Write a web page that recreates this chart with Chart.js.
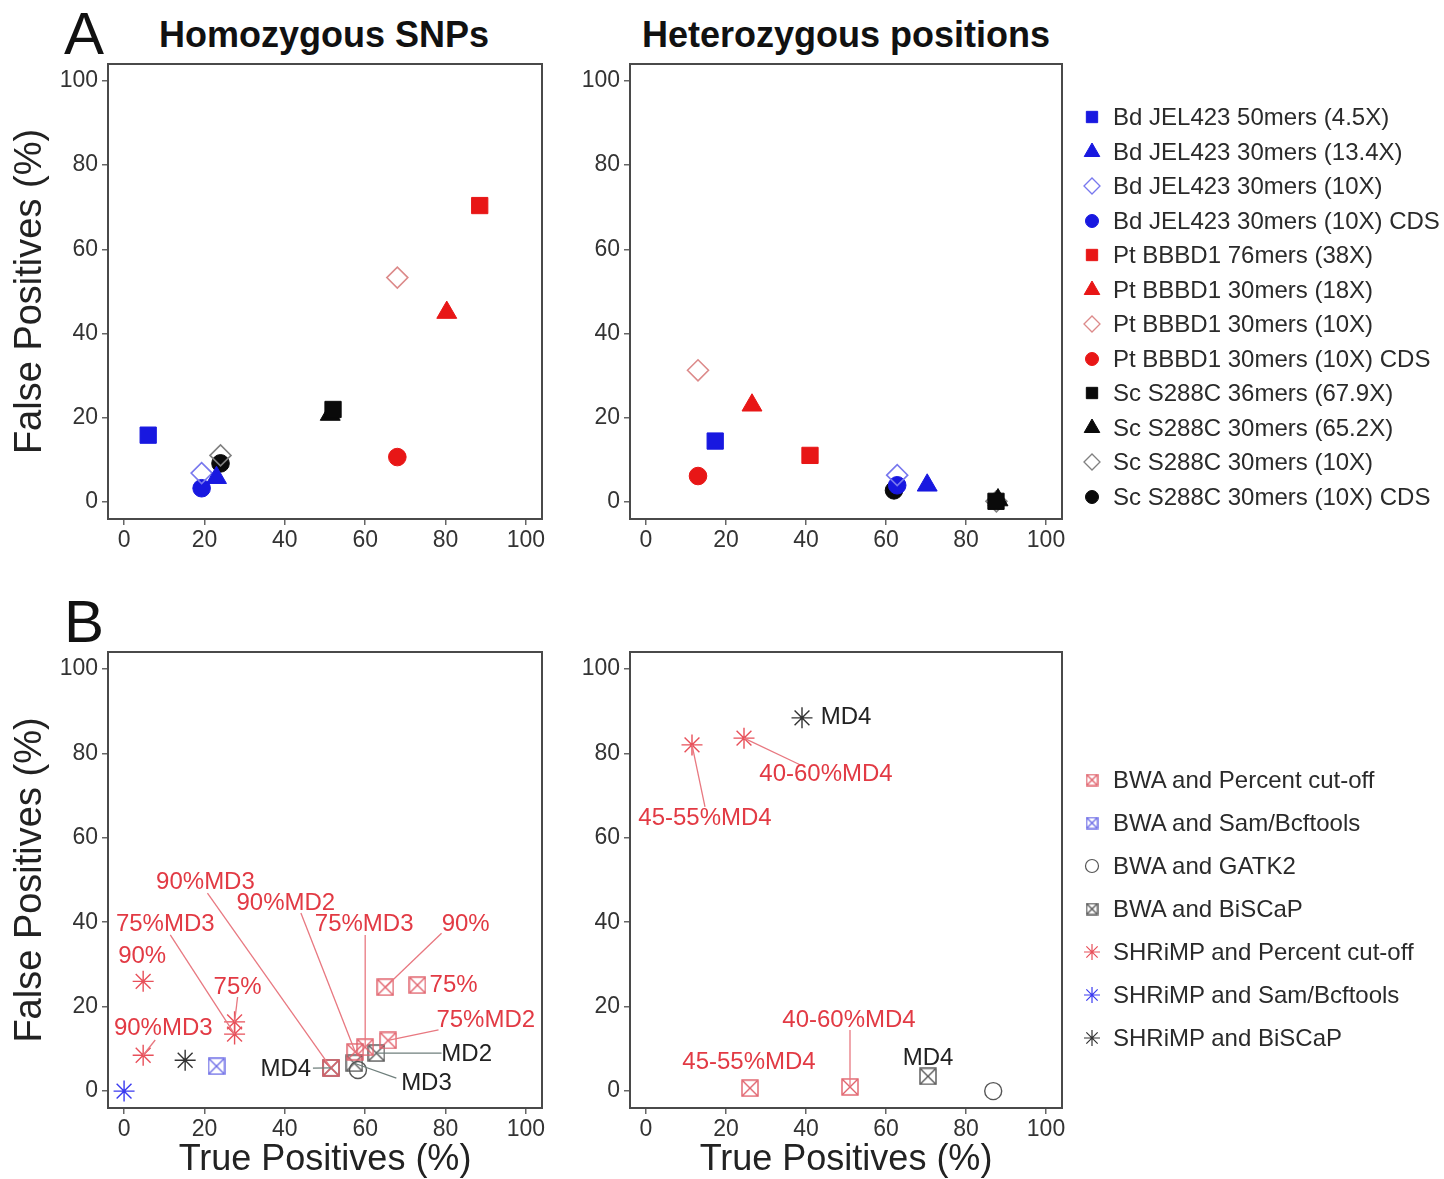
<!DOCTYPE html>
<html>
<head>
<meta charset="utf-8">
<script src="https://cdn.jsdelivr.net/npm/chart.js@4.4.1/dist/chart.umd.min.js"></script>
<style>
  body { margin: 0; background: #fff; width: 1444px; height: 1179px; position: relative; overflow: hidden;
         font-family: "Liberation Sans", Arial, sans-serif; }
  canvas { position: absolute; }
  .t { position: absolute; white-space: nowrap; line-height: 1; color: #111; }
  .letter { font-size: 60px; }
  .ptitle { font-size: 36px; font-weight: bold; transform: translateX(-50%); }
  .leg { font-size: 24px; color: #2a2a2a; }
</style>
</head>
<body>
<div class="t letter" style="left:64px;top:4px">A</div>
<div class="t letter" style="left:64px;top:592px">B</div>
<div class="t ptitle" style="left:324px;top:17px">Homozygous SNPs</div>
<div class="t ptitle" style="left:846px;top:17px">Heterozygous positions</div>

<canvas id="homA" width="560" height="569" style="left:0;top:0"></canvas>
<canvas id="hetA" width="520" height="569" style="left:560px;top:0"></canvas>
<canvas id="homB" width="560" height="579" style="left:0;top:600px"></canvas>
<canvas id="hetB" width="520" height="579" style="left:560px;top:600px"></canvas>
<div id="legends"></div>

<script>
const FONT = '"Liberation Sans", Arial, sans-serif';

const xTicks = [0, 20, 40, 60, 80, 100];
const yTicks = [0, 20, 40, 60, 80, 100];

// panel A: strains / read sets
const strainNames = [
  'Bd JEL423 50mers (4.5X)', 'Bd JEL423 30mers (13.4X)', 'Bd JEL423 30mers (10X)', 'Bd JEL423 30mers (10X) CDS',
  'Pt BBBD1 76mers (38X)', 'Pt BBBD1 30mers (18X)', 'Pt BBBD1 30mers (10X)', 'Pt BBBD1 30mers (10X) CDS',
  'Sc S288C 36mers (67.9X)', 'Sc S288C 30mers (65.2X)', 'Sc S288C 30mers (10X)', 'Sc S288C 30mers (10X) CDS'
];
const homA_x = [6, 23, 19.3, 19.3, 88.5, 80.3, 68, 68, 52, 51.3, 24, 24];
const homA_y = [15.9, 5.8, 6.9, 3.3, 70.4, 45, 53.3, 10.7, 22, 20.8, 11.1, 9.2];
const hetA_x = [17.3, 70.3, 62.8, 62.8, 41, 26.5, 13, 13, 87.5, 88, 87.6, 62];
const hetA_y = [14.5, 4.0, 6.4, 4.0, 11.1, 23, 31.3, 6.2, 0.2, 0.5, 0.2, 2.8];

// panel B: aligner + caller combinations
const methodNames = [
  'BWA and Percent cut-off', 'BWA and Sam/Bcftools', 'BWA and GATK2', 'BWA and BiSCaP',
  'SHRiMP and Percent cut-off', 'SHRiMP and Sam/Bcftools', 'SHRiMP and BiSCaP'
];
const homB_x = [[65, 73, 65.7, 60, 57.5, 51.5], [23], [58.2], [51.5, 57.3, 62.8], [4.75, 4.75, 27.5, 27.5], [0], [15.2]];
const homB_y = [[24.6, 25.1, 12, 10.4, 9.3, 5.5], [5.9], [5], [5.5, 6.6, 9], [26, 8.5, 16.4, 13.5], [0], [7.3]];
const hetB_x = [[26, 51], [], [86.8], [70.5], [11.5, 24.5], [], [39]];
const hetB_y = [[0.7, 1], [], [0], [3.5], [82, 83.6], [], [88.4]];

// point labels: [text, labelX, labelY, lineStartX, lineStartY, pointX, pointY, colour]
const homB_notes = [
  ['90%MD3', 20.25, 49.5, 20.75, 46.9, 51.5, 5.5, 'r'],
  ['90%MD2', 40.25, 44.5, 44, 42.2, 57.5, 9.3, 'r'],
  ['75%MD3', 59.75, 39.6, 60, 37, 60, 10.4, 'r'],
  ['90%', 85, 39.6, 79, 37.4, 65, 24.6, 'r'],
  ['75%', 82, 25.1, null, null, null, null, 'r'],
  ['75%MD2', 90, 16.8, 78.25, 14.5, 65.7, 12, 'r'],
  ['75%MD3', 10.25, 39.6, 11.5, 37, 27.5, 13.5, 'r'],
  ['90%', 4.5, 31.8, null, null, null, null, 'r'],
  ['75%', 28.25, 24.6, 28.25, 22.3, 27.5, 16.4, 'r'],
  ['90%MD3', 9.75, 14.9, 7.75, 12.1, 4.75, 8.5, 'r'],
  ['MD4', 40.25, 5.2, 47, 5.45, 51.5, 5.5, 'k'],
  ['MD2', 85.25, 8.8, 79, 9, 62.8, 9, 'k'],
  ['MD3', 75.25, 1.9, 67.75, 3.1, 57.3, 6.6, 'k']
];
const hetB_notes = [
  ['MD4', 50, 88.4, null, null, null, null, 'k'],
  ['45-55%MD4', 14.75, 64.7, 14.75, 67.3, 11.5, 82, 'r'],
  ['40-60%MD4', 45, 74.9, 38.5, 77.3, 24.5, 83.6, 'r'],
  ['45-55%MD4', 25.75, 6.9, null, null, null, null, 'r'],
  ['40-60%MD4', 50.75, 16.8, 51, 14.5, 51, 1, 'r'],
  ['MD4', 70.5, 7.8, null, null, null, null, 'k']
];

// styles
const strainColor = ['#1818e0', '#1818e0', '#7878ee', '#1818e0', '#e81616', '#e81616', '#dc8a8a', '#e81616',
                     '#0a0a0a', '#0a0a0a', '#808080', '#0a0a0a'];
const strainShape = ['rect', 'triangle', 'rectRot', 'circle', 'rect', 'triangle', 'rectRot', 'circle',
                     'rect', 'triangle', 'rectRot', 'circle'];
const shapeRadius = { rect: 11.5, triangle: 11.5, rectRot: 10.5, circle: 8.8 };
const legendRadius = { rect: 8, triangle: 9, rectRot: 8, circle: 6.5 };

function boxX(color, size) {
  const c = document.createElement('canvas');
  c.width = c.height = size;
  const g = c.getContext('2d');
  g.strokeStyle = color;
  g.lineWidth = 1.4;
  g.strokeRect(1, 1, size - 2, size - 2);
  g.beginPath();
  g.moveTo(1.5, 1.5); g.lineTo(size - 1.5, size - 1.5);
  g.moveTo(size - 1.5, 1.5); g.lineTo(1.5, size - 1.5);
  g.stroke();
  return c;
}
const methodColor = ['#e0606a', '#6a6ae6', '#555555', '#555555', '#e8505a', '#3a3af0', '#333333'];
const methodStyle = [boxX(methodColor[0], 18), boxX(methodColor[1], 18), 'circle', boxX(methodColor[3], 18), 'star', 'star', 'star'];
const methodLegendStyle = [boxX(methodColor[0], 13), boxX(methodColor[1], 13), 'circle', boxX(methodColor[3], 13), 'star', 'star', 'star'];

const frame = {
  id: 'frame',
  beforeDatasetsDraw(chart) {
    const { ctx, chartArea: a } = chart;
    ctx.save();
    ctx.strokeStyle = '#4a4a4a';
    ctx.lineWidth = 2;
    ctx.strokeRect(a.left, a.top, a.right - a.left, a.bottom - a.top);
    ctx.restore();
  }
};

function notes(items) {
  return {
    id: 'notes',
    afterDatasetsDraw(chart) {
      const { ctx, scales: { x, y } } = chart;
      ctx.save();
      items.forEach(([text, lx, ly, sx, sy, px, py, c]) => {
        if (sx !== null) {
          ctx.strokeStyle = c === 'r' ? '#e87880' : '#6f7f7c';
          ctx.lineWidth = 1.3;
          ctx.beginPath();
          ctx.moveTo(x.getPixelForValue(sx), y.getPixelForValue(sy));
          ctx.lineTo(x.getPixelForValue(px), y.getPixelForValue(py));
          ctx.stroke();
        }
      });
      ctx.font = '24px ' + FONT;
      ctx.textAlign = 'center';
      ctx.textBaseline = 'middle';
      items.forEach(([text, lx, ly, sx, sy, px, py, c]) => {
        ctx.fillStyle = c === 'r' ? '#e23a44' : '#222';
        ctx.fillText(text, x.getPixelForValue(lx), y.getPixelForValue(ly));
      });
      ctx.restore();
    }
  };
}

function axis(dir, title, size) {
  const vals = dir === 'x' ? xTicks : yTicks;
  return {
    type: 'linear', min: -4, max: 104,
    afterBuildTicks: s => { s.ticks = vals.map(v => ({ value: v })); },
    afterFit: s => { if (dir === 'x') s.height = size; else s.width = size; },
    grid: { drawOnChartArea: false, drawTicks: true, tickLength: 6, color: '#666', lineWidth: 1.5 },
    border: { display: false },
    ticks: { font: { family: FONT, size: 23 }, color: '#333', padding: dir === 'x' ? 2 : 4, maxRotation: 0, autoSkip: false },
    title: {
      display: !!title, text: title, color: '#222',
      font: { family: FONT, size: dir === 'x' ? 36 : 38, lineHeight: 1 },
      padding: dir === 'x' ? { top: 0, bottom: 1 } : { top: 12, bottom: 0 }
    }
  };
}

function makeChart(id, datasets, o) {
  return new Chart(document.getElementById(id), {
    type: 'scatter',
    data: { datasets },
    options: {
      responsive: false,
      animation: false,
      layout: { padding: o.pad },
      plugins: { legend: { display: false }, tooltip: { enabled: false } },
      scales: { x: axis('x', o.xTitle, o.xH), y: axis('y', o.yTitle, o.yW) }
    },
    plugins: [frame, notes(o.notes || [])]
  });
}

function strainSets(xs, ys) {
  return strainNames.map((name, i) => ({
    label: name,
    data: [{ x: xs[i], y: ys[i] }],
    pointStyle: strainShape[i],
    pointRadius: shapeRadius[strainShape[i]],
    backgroundColor: strainShape[i] === 'rectRot' ? 'rgba(0,0,0,0)' : strainColor[i],
    borderColor: strainColor[i],
    borderWidth: strainShape[i] === 'rectRot' ? 1.6 : 1
  }));
}

function methodSets(xs, ys) {
  return methodNames.map((name, i) => ({
    label: name,
    data: xs[i].map((x, j) => ({ x, y: ys[i][j] })),
    pointStyle: methodStyle[i],
    pointRadius: methodStyle[i] === 'star' ? 10.5 : 8.5,
    backgroundColor: 'rgba(0,0,0,0)',
    borderColor: methodColor[i],
    borderWidth: 1.4
  }));
}

makeChart('homA', strainSets(homA_x, homA_y), { pad: { top: 64, right: 18, left: 0, bottom: 0 }, yW: 108, xH: 50, yTitle: 'False Positives (%)' });
makeChart('hetA', strainSets(hetA_x, hetA_y), { pad: { top: 64, right: 18, left: 0, bottom: 0 }, yW: 70, xH: 50 });
makeChart('homB', methodSets(homB_x, homB_y), { pad: { top: 52, right: 18, left: 0, bottom: 0 }, yW: 108, xH: 71,
  yTitle: 'False Positives (%)', xTitle: 'True Positives (%)', notes: homB_notes });
makeChart('hetB', methodSets(hetB_x, hetB_y), { pad: { top: 52, right: 18, left: 0, bottom: 0 }, yW: 70, xH: 71,
  xTitle: 'True Positives (%)', notes: hetB_notes });

// legends: markers drawn with Chart.js' own point helper
function legend(names, top, step, styleOf) {
  const host = document.getElementById('legends');
  names.forEach((name, i) => {
    const cy = top + i * step;
    const c = document.createElement('canvas');
    c.width = 26; c.height = 26;
    c.style.left = (1092 - 13) + 'px';
    c.style.top = (cy - 13) + 'px';
    host.appendChild(c);
    const s = styleOf(i);
    const g = c.getContext('2d');
    g.fillStyle = s.fill;
    g.strokeStyle = s.stroke;
    g.lineWidth = s.width;
    Chart.helpers.drawPoint(g, { pointStyle: s.style, radius: s.radius, rotation: 0, borderWidth: s.width }, 13, 13);
    const d = document.createElement('div');
    d.className = 't leg';
    d.textContent = name;
    d.style.left = '1113px';
    d.style.top = (cy - 12) + 'px';
    host.appendChild(d);
  });
}
legend(strainNames, 117, 34.5, i => ({
  style: strainShape[i],
  radius: legendRadius[strainShape[i]],
  fill: strainShape[i] === 'rectRot' ? 'rgba(0,0,0,0)' : strainColor[i],
  stroke: strainColor[i],
  width: strainShape[i] === 'rectRot' ? 1.3 : 1
}));
legend(methodNames, 780, 43, i => ({
  style: methodLegendStyle[i],
  radius: methodLegendStyle[i] === 'star' ? 8 : 6.5,
  fill: 'rgba(0,0,0,0)',
  stroke: methodColor[i],
  width: 1.2
}));
</script>
</body>
</html>
